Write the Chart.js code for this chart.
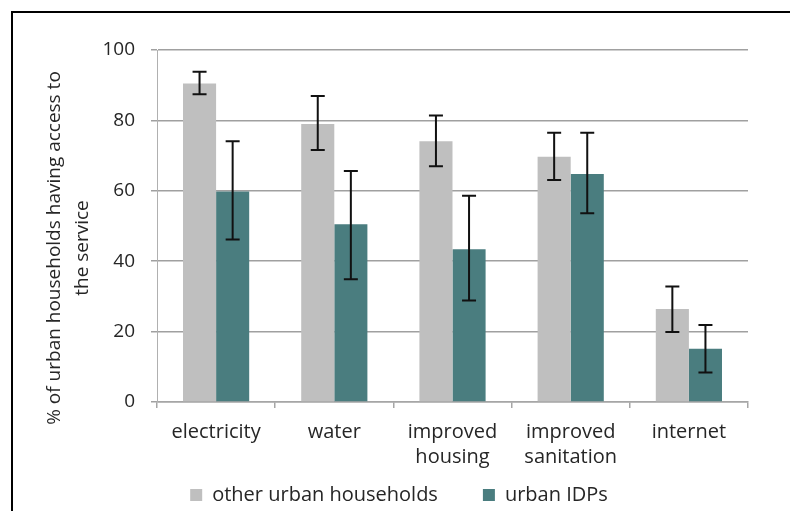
<!DOCTYPE html>
<html>
<head>
<meta charset="utf-8">
<script src="https://cdn.jsdelivr.net/npm/chart.js@4.4.1/dist/chart.umd.min.js"></script>
<style>
  html, body { margin: 0; padding: 0; background: #ffffff; }
  #wrap { position: relative; width: 790px; height: 511px; overflow: hidden; }
  #frame { position: absolute; left: 11px; top: 11px; width: 900px; height: 600px;
           border-left: 2px solid #000; border-top: 2px solid #000; }
  #c { position: absolute; left: 0; top: 0; }
</style>
</head>
<body>
<div id="wrap">
  <div id="frame"></div>
  <canvas id="c" width="790" height="511"></canvas>
</div>
<script>
const categories = [["electricity"], ["water"], ["improved", "housing"], ["improved", "sanitation"], ["internet"]];
const seriesNames = ["other urban households", "urban IDPs"];
const otherValues = [90.5, 79.0, 74.1, 69.7, 26.4];
const otherLow    = [87.4, 71.6, 67.0, 63.1, 19.9];
const otherHigh   = [93.8, 86.9, 81.4, 76.5, 32.8];
const idpValues   = [59.8, 50.5, 43.4, 64.8, 15.1];
const idpLow      = [46.2, 34.9, 28.8, 53.6, 8.4];
const idpHigh     = [74.1, 65.6, 58.6, 76.5, 21.9];
const yTicks = [0, 20, 40, 60, 80, 100];
const yTitle = ["% of urban households having access to", "the service"];

const FONT = "'Open Sans', sans-serif";
const TEXT = "#262626";
const LEGEND_PAD = 45;

const errorBars = {
  id: 'errorBars',
  afterDatasetsDraw(chart) {
    const ctx = chart.ctx;
    const y = chart.scales.y;
    const ranges = [[otherLow, otherHigh], [idpLow, idpHigh]];
    ctx.save();
    ctx.strokeStyle = '#111111';
    ctx.lineWidth = 2;
    chart.data.datasets.forEach((ds, di) => {
      const meta = chart.getDatasetMeta(di);
      meta.data.forEach((bar, i) => {
        const x = bar.x;
        const yl = y.getPixelForValue(ranges[di][0][i]);
        const yh = y.getPixelForValue(ranges[di][1][i]);
        const cap = 7;
        ctx.beginPath();
        ctx.moveTo(x, yl); ctx.lineTo(x, yh);
        ctx.moveTo(x - cap, yl); ctx.lineTo(x + cap, yl);
        ctx.moveTo(x - cap, yh); ctx.lineTo(x + cap, yh);
        ctx.stroke();
      });
    });
    ctx.restore();
  }
};

const layoutTweak = {
  id: 'layoutTweak',
  afterLayout(chart) {
    const xs = chart.scales.x;
    if (xs) { xs.bottom = 485; xs.height = xs.bottom - xs.top; }
    const l = chart.legend;
    if (l) {
      const dy = 4, dx = 25;
      l.top += dy; l.bottom += dy;
      l.left += dx; l.right += dx;
    }
  }
};

const yTitlePlugin = {
  id: 'yTitlePlugin',
  afterDraw(chart) {
    const ctx = chart.ctx;
    ctx.save();
    ctx.fillStyle = TEXT;
    ctx.font = "19px " + FONT;
    ctx.textAlign = 'center';
    ctx.textBaseline = 'middle';
    const cy = 248;
    const xs = [55, 83];
    yTitle.forEach((line, i) => {
      ctx.save();
      ctx.translate(xs[i], cy);
      ctx.rotate(-Math.PI / 2);
      ctx.fillText(line, 0, 0);
      ctx.restore();
    });
    ctx.restore();
  }
};

new Chart(document.getElementById('c'), {
  type: 'bar',
  data: {
    labels: categories,
    datasets: [
      { label: seriesNames[0], data: otherValues, backgroundColor: '#bfbfbf', borderWidth: 0 },
      { label: seriesNames[1], data: idpValues, backgroundColor: '#4a7d7f', borderWidth: 0 }
    ]
  },
  options: {
    responsive: false,
    animation: false,
    devicePixelRatio: 1,
    categoryPercentage: 0.56,
    barPercentage: 1.0,
    layout: { padding: { left: 0, right: 42, top: 50, bottom: 0 } },
    plugins: {
      legend: {
        position: 'bottom',
        labels: {
          boxWidth: 12, boxHeight: 12, padding: LEGEND_PAD,
          color: TEXT,
          font: { family: FONT, size: 20 }
        }
      },
      tooltip: { enabled: false },
      title: { display: false }
    },
    scales: {
      x: {
        afterFit(scale) { scale.height = 34; },
        grid: { offset: true, drawOnChartArea: false, drawTicks: true, tickLength: 6, color: '#a6a6a6', lineWidth: 1.5 },
        border: { display: true, color: '#a6a6a6', width: 1.5 },
        ticks: { color: TEXT, padding: 12, maxRotation: 0, autoSkip: false,
                 font: { family: FONT, size: 20, lineHeight: 1.25 } }
      },
      y: {
        min: 0, max: 100,
        afterFit(scale) { scale.width = 157; },
        afterBuildTicks(scale) { scale.ticks = yTicks.map(v => ({ value: v })); },
        grid: { color: '#a0a0a0', lineWidth: 1.5, tickLength: 6 },
        border: { display: true, color: '#b0b0b0', width: 1 },
        ticks: { color: TEXT, padding: 16, font: { family: FONT, size: 19 } }
      }
    }
  },
  plugins: [errorBars, layoutTweak, yTitlePlugin]
});
</script>
</body>
</html>
